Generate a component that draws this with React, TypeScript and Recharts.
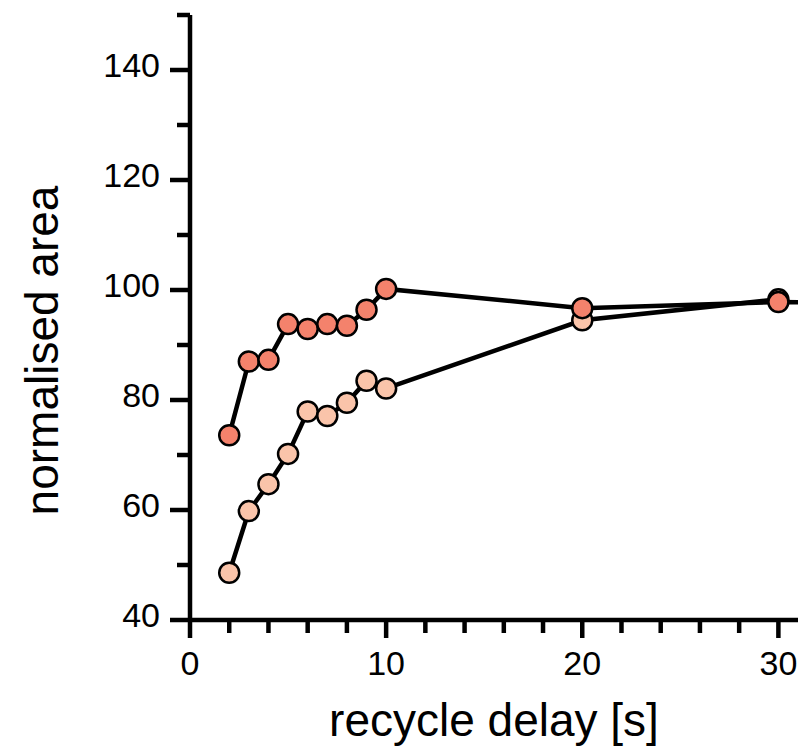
import React from "react";
import { LineChart, Line, XAxis, YAxis } from "recharts";

// recycle delay in seconds
const delays = [2, 3, 4, 5, 6, 7, 8, 9, 10, 20, 30];
// normalised peak areas, two series
const areaHigh = [73.6, 87.0, 87.3, 93.8, 92.9, 93.8, 93.5, 96.4, 100.2, 96.7, 97.8];
const areaLow = [48.6, 59.8, 64.7, 70.2, 77.9, 77.1, 79.5, 83.5, 82.1, 94.5, 98.3];
// the upper trace carries on past the visible range
const tailDelay = 40;
const tailHigh = 97.6;

const xTicks = [0, 2, 4, 6, 8, 10, 12, 14, 16, 18, 20, 22, 24, 26, 28, 30];
const yTicks = [40, 50, 60, 70, 80, 90, 100, 110, 120, 130, 140, 150];

const highData = [
  ...delays.map((d, i) => ({ delay: d, area: areaHigh[i] })),
  { delay: tailDelay, area: tailHigh },
];
const lowData = delays.map((d, i) => ({ delay: d, area: areaLow[i] }));

const FONT = "'Liberation Sans', Arial, Helvetica, sans-serif";
const AXIS_W = 4.5;

const YTick = (props: any) => {
  const { x, y, payload } = props;
  const major = payload.value % 20 === 0;
  return (
    <g>
      <line x1={x - (major ? 20 : 13)} x2={x} y1={y} y2={y} stroke="#000" strokeWidth={AXIS_W} />
      {major && (
        <text x={x - 30} y={y + 7} textAnchor="end" fontSize={34} fontFamily={FONT} fill="#000">
          {payload.value}
        </text>
      )}
    </g>
  );
};

const XTick = (props: any) => {
  const { x, y, payload } = props;
  const major = payload.value % 10 === 0;
  return (
    <g>
      <line x1={x} x2={x} y1={y} y2={y + (major ? 18 : 13)} stroke="#000" strokeWidth={AXIS_W} />
      {major && (
        <text x={x} y={y + 55} textAnchor="middle" fontSize={34} fontFamily={FONT} fill="#000">
          {payload.value}
        </text>
      )}
    </g>
  );
};

const YLabel = (props: any) => {
  const { viewBox } = props;
  const cx = viewBox.x + 42;
  const cy = viewBox.y + viewBox.height / 2 + 33;
  return (
    <text
      x={cx}
      y={cy}
      transform={`rotate(-90 ${cx} ${cy})`}
      textAnchor="middle"
      dominantBaseline="central"
      fontSize={46}
      fontFamily={FONT}
      fill="#000"
    >
      normalised area
    </text>
  );
};

const XLabel = (props: any) => {
  const { viewBox } = props;
  return (
    <text
      x={viewBox.x + viewBox.width / 2}
      y={736}
      textAnchor="middle"
      fontSize={46}
      fontFamily={FONT}
      fill="#000"
    >
      recycle delay [s]
    </text>
  );
};

export default function App() {
  return (
    <div style={{ position: "absolute", left: 0, top: 0, background: "#fff" }}>
      <LineChart width={798} height={748} margin={{ top: 15, right: 0, bottom: 0, left: 0 }}>
        <XAxis
          type="number"
          dataKey="delay"
          domain={[0, 31]}
          allowDataOverflow
          ticks={xTicks}
          interval={0}
          height={128}
          tickSize={0}
          tickMargin={0}
          tick={<XTick />}
          axisLine={{ stroke: "#000", strokeWidth: AXIS_W }}
          label={<XLabel />}
        />
        <YAxis
          type="number"
          domain={[40, 150]}
          allowDataOverflow
          ticks={yTicks}
          interval={0}
          width={190}
          tickSize={0}
          tickMargin={0}
          tick={<YTick />}
          axisLine={{ stroke: "#000", strokeWidth: AXIS_W }}
          label={<YLabel />}
        />
        <Line
          data={lowData}
          dataKey="area"
          type="linear"
          stroke="#000"
          strokeWidth={4.5}
          dot={{ r: 10, fill: "#fac4aa", stroke: "#000", strokeWidth: 2.5, fillOpacity: 1 }}
          activeDot={false}
          isAnimationActive={false}
        />
        <Line
          data={highData}
          dataKey="area"
          type="linear"
          stroke="#000"
          strokeWidth={4.5}
          dot={{ r: 10, fill: "#f4826c", stroke: "#000", strokeWidth: 2.5, fillOpacity: 1 }}
          activeDot={false}
          isAnimationActive={false}
        />
      </LineChart>
    </div>
  );
}
